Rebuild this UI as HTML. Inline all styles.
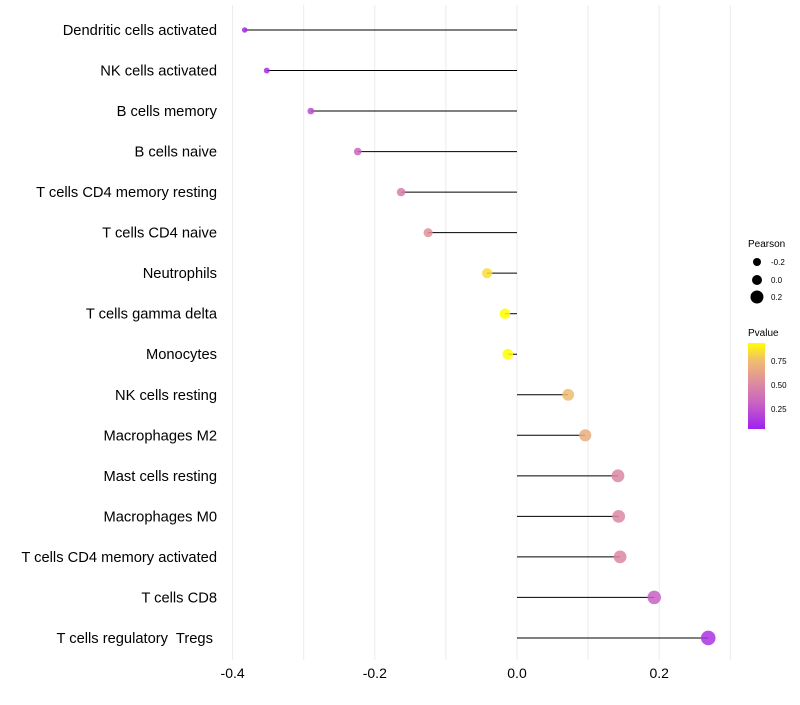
<!DOCTYPE html>
<html><head><meta charset="utf-8"><style>
body{margin:0;background:#fff;font-family:"Liberation Sans",sans-serif}
text{white-space:pre}
</style></head><body>
<svg id="chart" width="800" height="700" xmlns="http://www.w3.org/2000/svg">
<defs><linearGradient id="pg" x1="0" y1="1" x2="0" y2="0">
<stop offset="0" stop-color="#A020F0"/><stop offset="0.3" stop-color="#C862C4"/><stop offset="0.55" stop-color="#E08E9C"/><stop offset="0.8" stop-color="#F0BE6E"/><stop offset="1" stop-color="#FFFF00"/>
</linearGradient></defs>
<g id="grid"></g><g id="marks"></g><g id="labels"></g>
<g>
<text x="748" y="247" font-size="10">Pearson</text>
<circle cx="757" cy="262" r="4" fill="#000"/><text x="771" y="265" font-size="8">-0.2</text>
<circle cx="757" cy="280" r="5" fill="#000"/><text x="771" y="283" font-size="8">0.0</text>
<circle cx="757" cy="297" r="6.5" fill="#000"/><text x="771" y="300" font-size="8">0.2</text>
<text x="748" y="336" font-size="10">Pvalue</text>
<rect x="748" y="343" width="17" height="86" fill="url(#pg)"/>
<text x="771" y="364" font-size="8">0.75</text><text x="771" y="388" font-size="8">0.50</text><text x="771" y="412" font-size="8">0.25</text>
</g>
</svg>
<script>
const categories=["Dendritic cells activated","NK cells activated","B cells memory","B cells naive","T cells CD4 memory resting","T cells CD4 naive","Neutrophils","T cells gamma delta","Monocytes","NK cells resting","Macrophages M2","Mast cells resting","Macrophages M0","T cells CD4 memory activated","T cells CD8","T cells regulatory  Tregs "];
const pearson=[-0.383,-0.352,-0.290,-0.224,-0.163,-0.125,-0.042,-0.017,-0.013,0.072,0.096,0.142,0.143,0.145,0.193,0.269];
const pvalue=[0.06,0.08,0.22,0.32,0.45,0.55,0.85,0.97,0.97,0.75,0.68,0.5,0.5,0.5,0.3,0.12];
const xTicks=[-0.4,-0.2,0.0,0.2];
const xGrid=[-0.4,-0.3,-0.2,-0.1,0,0.1,0.2,0.3];
const NS="http://www.w3.org/2000/svg";
const x=v=>517+v*711;
const y=i=>30+i*40.53;
const r=v=>Math.max(1.8,5.4+7*v);
const stops=[[0,[160,32,240]],[0.3,[200,98,196]],[0.55,[224,142,156]],[0.8,[240,190,110]],[1,[255,255,0]]];
function col(p){const t=Math.min(1,Math.max(0,(p-0.04)/0.9));for(let k=1;k<stops.length;k++){if(t<=stops[k][0]){const a=stops[k-1],b=stops[k],f=(t-a[0])/(b[0]-a[0]);return "rgb("+a[1].map((c,j)=>Math.round(c+(b[1][j]-c)*f)).join(",")+")";}}return "rgb(255,255,0)";}
function mk(t,a,p){const e=document.createElementNS(NS,t);for(const k in a)e.setAttribute(k,a[k]);p.appendChild(e);return e;}
const g=document.getElementById("grid"),m=document.getElementById("marks"),l=document.getElementById("labels");
xGrid.forEach(v=>{const e=mk("line",{x1:x(v),x2:x(v),y1:5,y2:660,stroke:"#ebebeb","stroke-width":1},g);

});
xTicks.forEach(v=>{const e=mk("text",{x:x(v),y:678,"font-size":14,"text-anchor":"middle",fill:"#000"},l);e.textContent=v===0?"0.0":v.toFixed(1);

});
categories.forEach((c,i)=>{
const t=mk("text",{x:217,y:y(i)+5,"font-size":14.7,"text-anchor":"end",fill:"#000"},l);t.textContent=c;


const ln=mk("line",{x1:x(0),x2:x(pearson[i]),y1:y(i),y2:y(i),stroke:"#000","stroke-width":1},m);


const d=mk("circle",{cx:x(pearson[i]),cy:y(i),r:r(pearson[i]),fill:col(pvalue[i]),"fill-opacity":0.85},m);


});
</script>
</body></html>
